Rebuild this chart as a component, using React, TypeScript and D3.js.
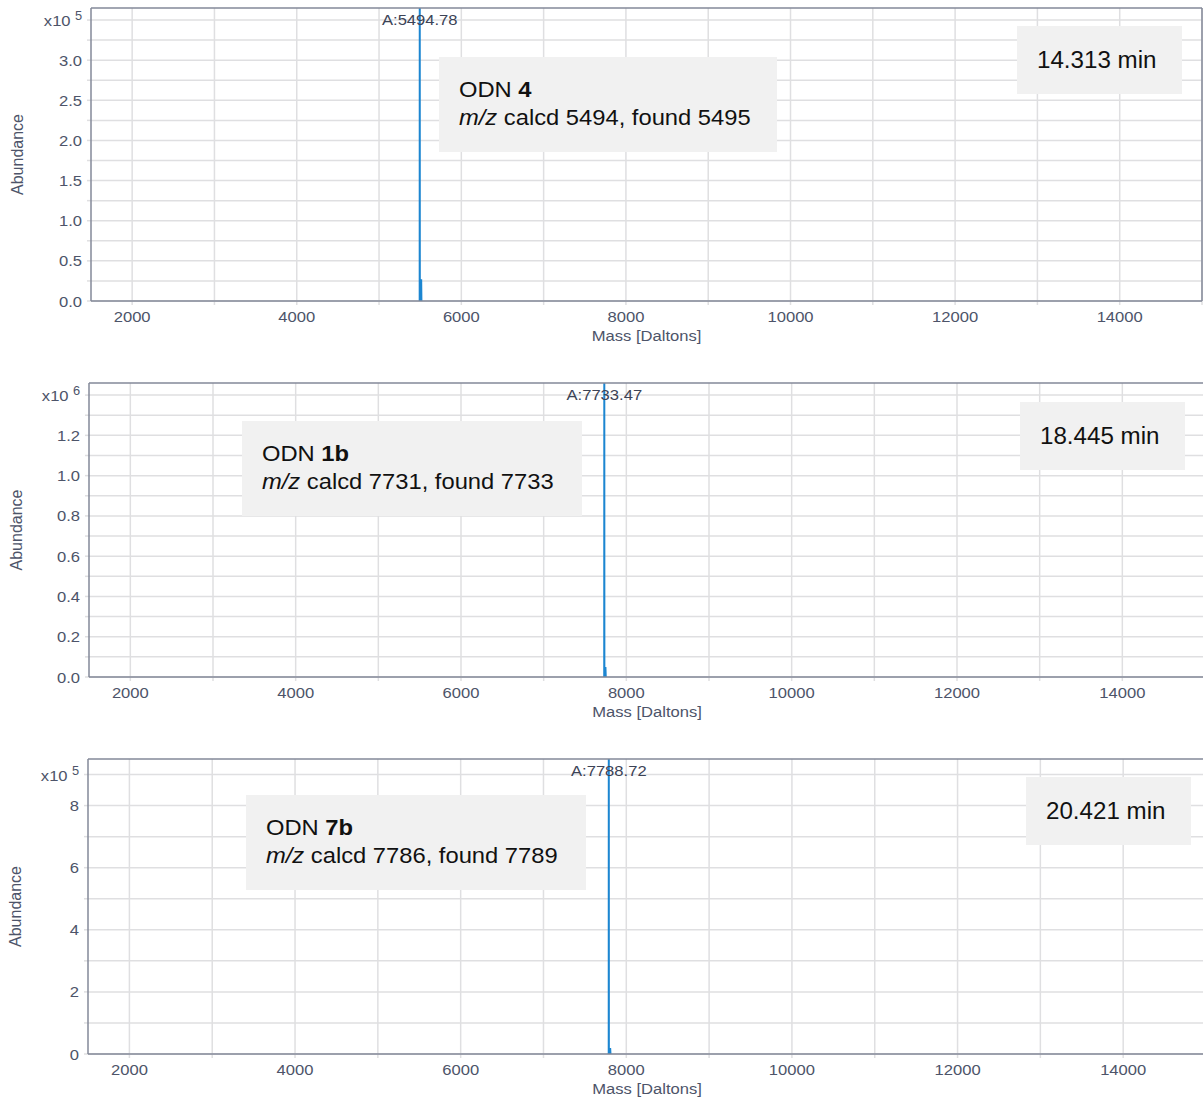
import React from "react";
import * as d3 from "d3";

// ---------- data ----------
const massDomain = [1500, 15000];
const massGridValues = [2000, 3000, 4000, 5000, 6000, 7000, 8000, 9000, 10000, 11000, 12000, 13000, 14000, 15000];
const massTickLabels = [2000, 4000, 6000, 8000, 10000, 12000, 14000];

// Deconvoluted spectrum, panel 1 (ODN 4)
const odn4Mass = [5485, 5494.0, 5494.78, 5495.6, 5509, 5512, 5515, 5525];
const odn4Abund = [0, 0, 365000, 0, 0, 27000, 0, 0];
// Panel 2 (ODN 1b)
const odn1bMass = [7720, 7732.6, 7733.47, 7734.3, 7743, 7747, 7751, 7762];
const odn1bAbund = [0, 0, 1460000, 0, 0, 50000, 0, 0];
// Panel 3 (ODN 7b)
const odn7bMass = [7775, 7787.9, 7788.72, 7789.6, 7801, 7805, 7809, 7820];
const odn7bAbund = [0, 0, 950000, 0, 0, 19000, 0, 0];

const peakLabels = ["A:5494.78", "A:7733.47", "A:7788.72"];
const compoundNames = ["4", "1b", "7b"];
const calcdValues = [5494, 7731, 7786];
const foundValues = [5495, 7733, 7789];
const retentionTimes = ["14.313 min", "18.445 min", "20.421 min"];

const yMaxValues = [365000, 1460000, 950000];
const yExponents = [5, 6, 5];
const yGridSteps = [0.25, 0.1, 1];
const yLabelSteps = [0.5, 0.2, 2];
const yLabelDecimals = [1, 1, 0];
const yExpLabelAt = [3.5, 1.4, 9];

// ---------- layout ----------
const panelsLayout = [
  { left: 91, right: 1202, top: 8, bottom: 301, box: [348, 49, 338, 95], tbox: [926, 18, 165, 68] },
  { left: 89, right: 1205, top: 383, bottom: 677, box: [153, 38, 340, 95], tbox: [931, 19, 165, 68] },
  { left: 88, right: 1206, top: 759, bottom: 1054, box: [158, 36, 340, 95], tbox: [938, 18, 165, 68] },
];

const spectra = [
  { mass: odn4Mass, abund: odn4Abund },
  { mass: odn1bMass, abund: odn1bAbund },
  { mass: odn7bMass, abund: odn7bAbund },
];

const AXIS = "#838899";
const GRID = "#dfdfe1";
const TICKTXT = "#4d5469";
const PEAK = "#1c86d1";
const FONT = "'Liberation Sans', Arial, sans-serif";
const SX = 1.07;
const TS = 15.5;

function T({ x, y, size = TS, anchor = "start", fill = TICKTXT, sx = SX, children, weight }: any) {
  return (
    <text
      transform={`translate(${x},${y}) scale(${sx},1)`}
      textAnchor={anchor}
      fontSize={size}
      fontFamily={FONT}
      fill={fill}
      fontWeight={weight}
    >
      {children}
    </text>
  );
}

function Panel({ i }: { i: number }) {
  const L = panelsLayout[i];
  const x = d3.scaleLinear().domain(massDomain).range([L.left, L.right]);
  const y = d3.scaleLinear().domain([0, yMaxValues[i]]).range([L.bottom, L.top]);
  const unit = Math.pow(10, yExponents[i]);
  const nGrid = Math.floor(yMaxValues[i] / unit / yGridSteps[i] + 1e-6);
  const gridVals = d3.range(0, nGrid + 1).map((k) => +(k * yGridSteps[i]).toFixed(4));
  const labelVals = gridVals.filter(
    (v) => Math.abs(v / yLabelSteps[i] - Math.round(v / yLabelSteps[i])) < 1e-6 && v < yExpLabelAt[i] - 1e-6
  );
  const data = spectra[i].mass.map((m, k) => [m, spectra[i].abund[k]] as [number, number]);
  const line = d3
    .line<[number, number]>()
    .x((d) => x(d[0]))
    .y((d) => y(d[1]));
  const clipId = `clip${i}`;
  const peakIdx = d3.maxIndex(spectra[i].abund);
  const peakX = x(spectra[i].mass[peakIdx]);
  const [bx, by, bw, bh] = L.box;
  const [tx, ty, tw, th] = L.tbox;
  const midY = (L.top + L.bottom) / 2;
  const midX = (L.left + L.right) / 2;
  return (
    <g>
      <defs>
        <clipPath id={clipId}>
          <rect x={L.left} y={L.top} width={L.right - L.left} height={L.bottom - L.top} />
        </clipPath>
      </defs>
      {/* grid */}
      {massGridValues.map((m) => (
        <g key={"vx" + m}>
          <line x1={x(m)} x2={x(m)} y1={L.top} y2={L.bottom} stroke={GRID} strokeWidth={1.5} />
          <line x1={x(m)} x2={x(m)} y1={L.bottom} y2={L.bottom + 4} stroke={GRID} strokeWidth={1.5} />
        </g>
      ))}
      {gridVals.map((v) => (
        <g key={"hy" + v}>
          <line x1={L.left} x2={L.right} y1={y(v * unit)} y2={y(v * unit)} stroke={GRID} strokeWidth={1.5} />
          <line x1={L.left - 4} x2={L.left} y1={y(v * unit)} y2={y(v * unit)} stroke={GRID} strokeWidth={1.5} />
        </g>
      ))}
      {/* annotation boxes */}
      <rect x={L.left + bx} y={L.top + by} width={bw} height={bh} fill="#f1f1f1" />
      <text
        transform={`translate(${L.left + bx + 20},${L.top + by + 40}) scale(1.08,1)`}
        fontSize={22}
        fontFamily={FONT}
        fill="#111"
      >
        ODN <tspan fontWeight="bold">{compoundNames[i]}</tspan>
      </text>
      <text
        transform={`translate(${L.left + bx + 20},${L.top + by + 68}) scale(1.08,1)`}
        fontSize={22}
        fontFamily={FONT}
        fill="#111"
      >
        <tspan fontStyle="italic">m/z</tspan> calcd {calcdValues[i]}, found {foundValues[i]}
      </text>
      <rect x={L.left + tx} y={L.top + ty} width={tw} height={th} fill="#f1f1f1" />
      <text
        transform={`translate(${L.left + tx + 20},${L.top + ty + 42}) scale(1.05,1)`}
        fontSize={23}
        fontFamily={FONT}
        fill="#111"
      >
        {retentionTimes[i]}
      </text>
      {/* spectrum */}
      <path d={line(data) || ""} fill="none" stroke={PEAK} strokeWidth={2} clipPath={`url(#${clipId})`} />
      <T x={peakX} y={L.top + 17} anchor="middle" fill="#3c4356">
        {peakLabels[i]}
      </T>
      {/* axes */}
      <line x1={L.left} x2={L.right} y1={L.top} y2={L.top} stroke={AXIS} strokeWidth={1.5} />
      <line x1={L.left} x2={L.right} y1={L.bottom} y2={L.bottom} stroke={AXIS} strokeWidth={1.5} />
      <line x1={L.left} x2={L.left} y1={L.top} y2={L.bottom} stroke={AXIS} strokeWidth={1.5} />
      {i === 0 && <line x1={L.right} x2={L.right} y1={L.top} y2={L.bottom} stroke={AXIS} strokeWidth={1.5} />}
      {massTickLabels.map((m) => (
        <T key={"xl" + m} x={x(m)} y={L.bottom + 21} anchor="middle">
          {m}
        </T>
      ))}
      {labelVals.map((v) => (
        <T key={"yl" + v} x={L.left - 9} y={y(v * unit) + 5.5} anchor="end">
          {v.toFixed(yLabelDecimals[i])}
        </T>
      ))}
      <text
        transform={`translate(${L.left - 9},${y(yExpLabelAt[i] * unit) + 6}) scale(${SX},1)`}
        textAnchor="end"
        fontSize={TS}
        fontFamily={FONT}
        fill={TICKTXT}
      >
        x10
        <tspan dx={4} dy={-6} fontSize={12}>
          {yExponents[i]}
        </tspan>
      </text>
      <T x={midX} y={L.bottom + 40} anchor="middle">
        Mass [Daltons]
      </T>
      <text
        transform={`translate(${i === 0 ? 23 : i === 1 ? 22 : 21},${midY}) rotate(-90)`}
        textAnchor="middle"
        fontSize={16}
        fontFamily={FONT}
        fill={TICKTXT}
      >
        Abundance
      </text>
    </g>
  );
}

export default function App() {
  return (
    <svg
      width={1203}
      height={1109}
      viewBox="0 0 1203 1109"
      style={{ position: "absolute", left: 0, top: 0, background: "#fff" }}
    >
      <rect x={0} y={0} width={1203} height={1109} fill="#fff" />
      {[0, 1, 2].map((i) => (
        <Panel key={i} i={i} />
      ))}
    </svg>
  );
}
